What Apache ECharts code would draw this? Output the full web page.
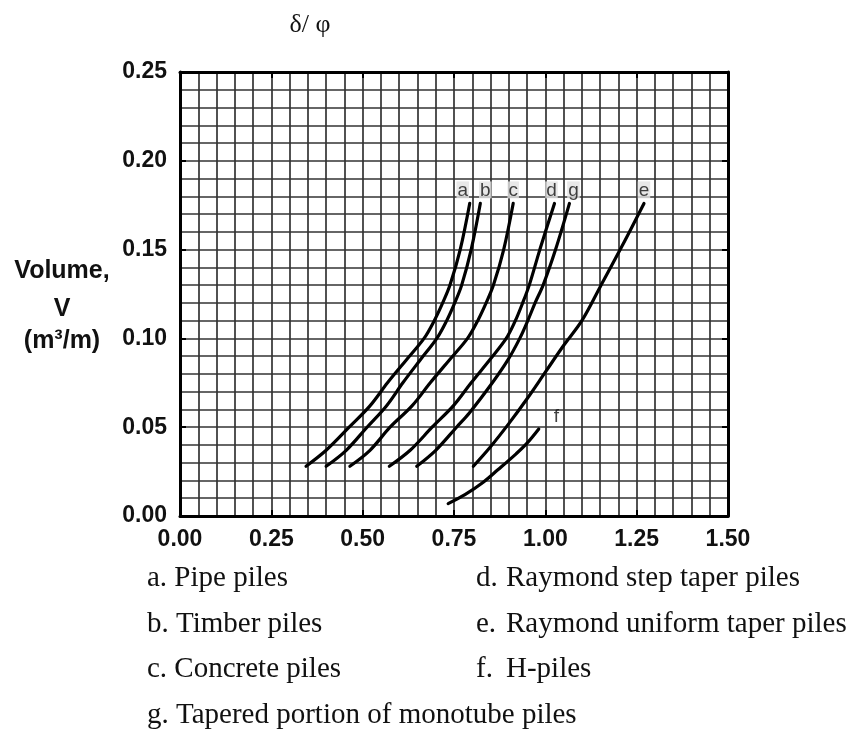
<!DOCTYPE html>
<html>
<head>
<meta charset="utf-8">
<script src="https://cdn.jsdelivr.net/npm/echarts@6/dist/echarts.min.js"></script>
<style>
  html, body { margin: 0; padding: 0; background: #fff; }
  #chart { width: 852px; height: 731px; }
</style>
</head>
<body>
<div id="chart"></div>
<script>
// Volume of soil displaced per metre of pile, V (m^3/m), against delta/phi
const curveA = [[0.345,0.028],[0.400,0.037],[0.463,0.050],[0.520,0.062],[0.568,0.075],[0.620,0.088],[0.668,0.100],[0.696,0.110],[0.719,0.120],[0.739,0.130],[0.767,0.150],[0.793,0.176]];
const curveB = [[0.400,0.028],[0.455,0.037],[0.512,0.050],[0.565,0.062],[0.610,0.075],[0.658,0.088],[0.703,0.100],[0.730,0.110],[0.752,0.120],[0.771,0.130],[0.797,0.150],[0.822,0.176]];
const curveC = [[0.465,0.028],[0.520,0.037],[0.575,0.050],[0.635,0.062],[0.685,0.075],[0.738,0.088],[0.787,0.100],[0.815,0.110],[0.838,0.120],[0.858,0.130],[0.886,0.150],[0.912,0.176]];
const curveD = [[0.573,0.028],[0.630,0.037],[0.690,0.050],[0.748,0.062],[0.797,0.075],[0.848,0.088],[0.893,0.100],[0.918,0.110],[0.938,0.120],[0.956,0.130],[0.985,0.150],[1.025,0.176]];
const curveG = [[0.648,0.028],[0.700,0.037],[0.757,0.050],[0.792,0.058],[0.855,0.075],[0.898,0.088],[0.930,0.100],[0.952,0.110],[0.972,0.120],[0.994,0.130],[1.028,0.150],[1.066,0.176]];
const curveE = [[0.803,0.028],[0.850,0.039],[0.900,0.052],[0.950,0.066],[1.000,0.081],[1.050,0.096],[1.100,0.110],[1.150,0.129],[1.210,0.152],[1.270,0.176]];
const curveF = [[0.734,0.007],[0.780,0.012],[0.830,0.019],[0.870,0.026],[0.920,0.035],[0.950,0.041],[0.982,0.049]];

const curveLetters = ['a', 'b', 'c', 'd', 'g', 'e', 'f'];
const curves = [curveA, curveB, curveC, curveD, curveG, curveE, curveF];

const xTickValues = [0, 0.25, 0.5, 0.75, 1.0, 1.25, 1.5];
const yTickValues = [0, 0.05, 0.10, 0.15, 0.20, 0.25];

const xTitle = 'δ/ φ';
const yTitleLines = ['Volume,', 'V', '(m³/m)'];

const legendLeft = ['a. Pipe piles', 'b. Timber piles', 'c. Concrete piles', 'g. Tapered portion of monotube piles'];
const legendRightKeys = ['d.', 'e.', 'f.'];
const legendRightText = ['Raymond step taper piles', 'Raymond uniform taper piles', 'H-piles'];

// placement of the letter tags relative to each curve end (pixels)
const tagOffsets = {
  a: [-7, 0], b: [5, 0], c: [0, 0], d: [-3, 0], g: [4, 0], e: [0, 0], f: [0, -12]
};

const chart = echarts.init(document.getElementById('chart'), null, { renderer: 'canvas' });

const GRID = { left: 180, right: 124, top: 72, bottom: 215 };
const gridColor = '#333';
const tickFont = { fontFamily: '"Liberation Sans", Arial, sans-serif', fontWeight: 'bold', fontSize: 23, color: '#111' };

function valueAxis(common) {
  return Object.assign({
    type: 'value',
    axisLine: { show: true, onZero: false, lineStyle: { color: '#000', width: 3 } },
    axisTick: { show: true, inside: true, length: 6, lineStyle: { color: '#000', width: 2 } },
    minorTick: { show: false, splitNumber: 5 },
    splitLine: { show: false },
    minorSplitLine: { show: false },
    axisLabel: { show: false }
  }, common);
}

const xMain = valueAxis({
  min: xTickValues[0], max: xTickValues[xTickValues.length - 1],
  interval: xTickValues[1] - xTickValues[0], position: 'bottom',
  axisLabel: Object.assign({ show: true, margin: 12, formatter: v => v.toFixed(2) }, tickFont),
  splitLine: { show: true, lineStyle: { color: gridColor, width: 1.7 } },
  minorSplitLine: { show: true, lineStyle: { color: gridColor, width: 1.7 } }
});
const xTop = valueAxis({
  min: xTickValues[0], max: xTickValues[xTickValues.length - 1],
  interval: xTickValues[1] - xTickValues[0], position: 'top'
});
const yMain = valueAxis({
  min: yTickValues[0], max: yTickValues[yTickValues.length - 1],
  interval: yTickValues[1] - yTickValues[0], position: 'left',
  axisLabel: Object.assign({ show: true, margin: 13, formatter: v => v.toFixed(2) }, tickFont),
  splitLine: { show: true, lineStyle: { color: gridColor, width: 1.7 } },
  minorSplitLine: { show: true, lineStyle: { color: gridColor, width: 1.7 } }
});
const yRight = valueAxis({
  min: yTickValues[0], max: yTickValues[yTickValues.length - 1],
  interval: yTickValues[1] - yTickValues[0], position: 'right'
});

const series = [];
curves.forEach((pts, i) => {
  const letter = curveLetters[i];
  series.push({
    type: 'line',
    name: letter,
    data: pts,
    smooth: 0.35,
    showSymbol: false,
    silent: true,
    lineStyle: { color: '#000', width: 3.2, cap: 'round' },
    z: 5
  });
  const end = pts[pts.length - 1];
  const isF = letter === 'f';
  series.push({
    type: 'scatter',
    data: [end],
    symbolSize: 0,
    silent: true,
    z: 6,
    label: {
      show: true,
      formatter: letter,
      position: isF ? 'right' : 'top',
      distance: isF ? 14 : 5,
      offset: tagOffsets[letter],
      fontFamily: '"Liberation Sans", Arial, sans-serif',
      fontSize: 19,
      color: '#111',
      backgroundColor: isF ? 'transparent' : '#e2e2e2',
      padding: [0, 1, -1, 1],
      lineHeight: 18
    }
  });
});

const graphics = [];
graphics.push({
  type: 'text', x: 310, y: 25,
  style: { text: xTitle, font: '26px "Liberation Serif", "Times New Roman", serif', fill: '#111', textAlign: 'center', textVerticalAlign: 'middle' }
});
const yTitleFont = 'bold 25px "Liberation Sans", Arial, sans-serif';
const yTitleRows = [271, 309, 341];
yTitleLines.forEach((t, i) => {
  graphics.push({
    type: 'text', x: 62, y: yTitleRows[i],
    style: { text: t, font: yTitleFont, fill: '#111', textAlign: 'center', textVerticalAlign: 'middle' }
  });
});
const legendFont = '29px "Liberation Serif", "Times New Roman", serif';
legendLeft.forEach((t, i) => {
  graphics.push({ type: 'text', left: 147, top: 564 + i * 45.5, style: { text: t, font: legendFont, fill: '#111' } });
});
legendRightKeys.forEach((k, i) => {
  graphics.push({ type: 'text', left: 476, top: 564 + i * 45.5, style: { text: k, font: legendFont, fill: '#111' } });
  graphics.push({ type: 'text', left: 506, top: 564 + i * 45.5, style: { text: legendRightText[i], font: legendFont, fill: '#111' } });
});

chart.setOption({
  backgroundColor: '#fff',
  animation: false,
  grid: GRID,
  xAxis: [xMain, xTop],
  yAxis: [yMain, yRight],
  series: series,
  graphic: graphics
});
</script>
</body>
</html>
